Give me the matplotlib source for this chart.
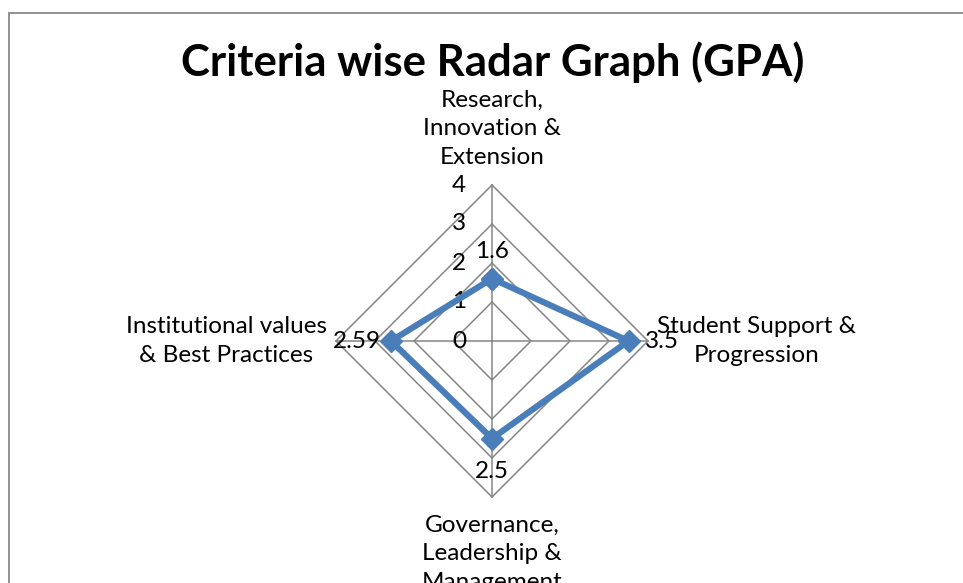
import numpy as np
import matplotlib
matplotlib.use("Agg")
import matplotlib.pyplot as plt
from matplotlib.patches import Rectangle

# ---- data ----
title = "Criteria wise Radar Graph (GPA)"
categories = ["Research,\nInnovation &\nExtension",
              "Student Support &\nProgression",
              "Governance,\nLeadership &\nManagement",
              "Institutional values\n& Best Practices"]
values = [1.6, 3.5, 2.5, 2.59]
value_labels = ["1.6", "3.5", "2.5", "2.59"]
rticks = [0, 1, 2, 3, 4]
rmax = 4

# ---- layout ----
W, H = 963, 583
fig = plt.figure(figsize=(W / 100, H / 100), dpi=100)
ax = fig.add_axes([0, 0, 1, 1])
cx, cy, unit = 492, 341, 39.0  # centre pixel and pixels per unit
ax.set_xlim((0 - cx) / unit, (W - cx) / unit)
ax.set_ylim((cy - H) / unit, (cy - 0) / unit)
ax.axis("off")

FONT = "Lato"
FS = 17.5
n = len(categories)
theta = np.pi / 2 - 2 * np.pi * np.arange(n) / n  # clockwise from top
ux, uy = np.cos(theta), np.sin(theta)

grid_c = "#868686"
# grid polygons
for r in rticks[1:]:
    xs = np.append(r * ux, r * ux[0])
    ys = np.append(r * uy, r * uy[0])
    ax.plot(xs, ys, color=grid_c, lw=1.1, zorder=1, solid_joinstyle="miter")
# spokes
for i in range(n):
    ax.plot([0, rmax * ux[i]], [0, rmax * uy[i]], color=grid_c, lw=1.1, zorder=1)

# tick labels
for r in rticks:
    ax.text(-0.66, r, str(r), ha="right", va="center", fontsize=FS,
            family=FONT, color="black", zorder=3)

# series
v = np.array(values)
xs = np.append(v * ux, v[0] * ux[0])
ys = np.append(v * uy, v[0] * uy[0])
col = "#4A7EBB"
ax.plot(xs, ys, color=col, lw=4.5, marker="D", markersize=11,
        markerfacecolor=col, markeredgecolor=col, zorder=4,
        solid_joinstyle="miter")

# data labels
offsets = [(0, 27, "center", "center"), (16, 0, "left", "center"),
           (0, -33, "center", "center"), (-10, 0, "right", "center")]
for i, lab in enumerate(value_labels):
    dx, dy, ha, va = offsets[i]
    ax.annotate(lab, (v[i] * ux[i], v[i] * uy[i]), xytext=(dx, dy),
                textcoords="offset pixels", ha=ha, va=va, fontsize=FS,
                family=FONT, color="black", zorder=5)

# category labels
cat_pos = [(0, 5.44), (6.79, 0), (0, -5.46), (-6.82, 0)]
for lab, (px, py) in zip(categories, cat_pos):
    ax.text(px, py, lab, ha="center", va="center", fontsize=FS,
            family=FONT, linespacing=1.45, color="black", zorder=3,
            multialignment="center")

# title
ax.text((493 - cx) / unit, (cy - 62) / unit, title, ha="center", va="center",
        fontsize=31.5, fontweight="bold", family=FONT, color="black")

# chart border
fig.patches.append(Rectangle((9 / W, -0.1), 1.2, (H - 13) / H + 0.1,
                             transform=fig.transFigure, fill=False,
                             edgecolor="#888888", lw=1.3))

fig.savefig("out.png", dpi=100, facecolor="white")
